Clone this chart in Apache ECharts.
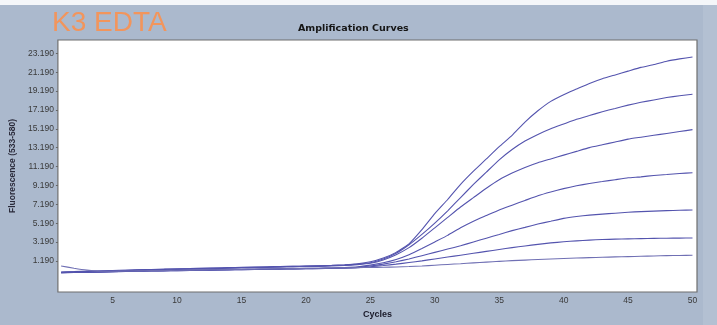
<!DOCTYPE html>
<html>
<head>
<meta charset="utf-8">
<script src="https://cdn.jsdelivr.net/npm/echarts@6/dist/echarts.min.js"></script>
<style>html,body{margin:0;padding:0;background:#abb9cd;}#c{width:717px;height:325px;}</style>
</head>
<body>
<div id="c"></div>
<script>
var cycles = [1,2,3,4,5,6,7,8,9,10,11,12,13,14,15,16,17,18,19,20,21,22,23,24,25,26,27,28,29,30,31,32,33,34,35,36,37,38,39,40,41,42,43,44,45,46,47,48,49,50];
var xTicks = [5,10,15,20,25,30,35,40,45,50];
var yTicks = [1.19,3.19,5.19,7.19,9.19,11.19,13.19,15.19,17.19,19.19,21.19,23.19];

var curve1 = [0.02,0.06,0.1,0.13,0.17,0.21,0.25,0.29,0.32,0.35,0.38,0.42,0.45,0.48,0.51,0.54,0.57,0.6,0.62,0.65,0.68,0.72,0.78,0.88,
  1.1,1.5,2.1,3.0,4.5,6.2,7.7,9.3,10.7,12.0,13.3,14.5,15.9,17.1,18.1,18.8,19.4,20.0,20.5,20.9,21.3,21.7,22.0,22.35,22.6,22.8];
var curve2 = [0.0,0.04,0.08,0.12,0.16,0.2,0.24,0.27,0.3,0.34,0.37,0.4,0.43,0.46,0.49,0.52,0.55,0.58,0.61,0.64,0.67,0.7,0.75,0.85,
  1.0,1.4,2.0,2.9,4.0,5.2,6.5,7.9,9.3,10.6,11.9,13.0,13.9,14.6,15.2,15.7,16.2,16.6,17.0,17.35,17.7,18.0,18.25,18.5,18.7,18.86];
var curve3 = [-0.03,0.0,0.04,0.08,0.12,0.16,0.2,0.23,0.26,0.29,0.32,0.35,0.38,0.41,0.44,0.47,0.5,0.53,0.56,0.59,0.62,0.65,0.7,0.8,
  0.95,1.3,1.85,2.6,3.6,4.7,5.8,6.9,7.9,8.9,9.8,10.5,11.1,11.6,12.0,12.4,12.8,13.2,13.5,13.8,14.1,14.3,14.5,14.7,14.9,15.1];
var curve4 = [-0.05,-0.03,0.0,0.03,0.06,0.09,0.12,0.15,0.17,0.19,0.21,0.23,0.25,0.27,0.29,0.31,0.33,0.35,0.37,0.39,0.41,0.44,0.48,0.56,
  0.75,1.0,1.35,1.85,2.5,3.2,3.9,4.7,5.4,6.0,6.6,7.1,7.6,8.1,8.5,8.85,9.15,9.4,9.6,9.8,10.0,10.1,10.25,10.35,10.45,10.53];
var curve5 = [-0.06,-0.04,-0.02,0.01,0.04,0.07,0.1,0.12,0.14,0.16,0.18,0.2,0.22,0.24,0.26,0.28,0.3,0.32,0.34,0.36,0.38,0.4,0.43,0.5,
  0.65,0.85,1.1,1.4,1.75,2.1,2.45,2.8,3.2,3.6,4.0,4.4,4.75,5.1,5.4,5.7,5.9,6.05,6.15,6.25,6.35,6.42,6.47,6.52,6.56,6.59];
var curve6 = [-0.05,-0.02,0.0,0.02,0.05,0.08,0.11,0.13,0.15,0.17,0.19,0.21,0.23,0.25,0.27,0.29,0.31,0.33,0.35,0.37,0.39,0.41,0.44,0.48,
  0.58,0.7,0.85,1.02,1.2,1.4,1.6,1.8,2.0,2.2,2.4,2.6,2.78,2.95,3.1,3.22,3.32,3.4,3.46,3.5,3.53,3.56,3.58,3.6,3.61,3.62];
var curve7 = [0.66,0.42,0.22,0.1,0.1,0.12,0.14,0.16,0.18,0.2,0.22,0.24,0.26,0.28,0.3,0.32,0.34,0.36,0.38,0.4,0.42,0.44,0.46,0.48,
  0.5,0.52,0.55,0.6,0.66,0.74,0.82,0.9,0.99,1.07,1.15,1.22,1.28,1.34,1.4,1.45,1.5,1.54,1.58,1.62,1.65,1.68,1.72,1.75,1.77,1.79];

var curves = [curve1, curve2, curve3, curve4, curve5, curve6, curve7];

var chart = echarts.init(document.getElementById('c'), null, {renderer: 'canvas'});
var series = curves.map(function (vals, i) {
  return {
    type: 'line',
    name: 'curve' + (i + 1),
    data: cycles.map(function (c, j) { return [c, vals[j]]; }),
    showSymbol: false,
    symbol: 'none',
    smooth: 0.12,
    lineStyle: { color: i === 6 ? '#7070b4' : '#5454ae', width: 1.1 },
    animation: false
  };
});

chart.setOption({
  backgroundColor: '#abb9cd',
  animation: false,
  graphic: [
    { type: 'rect', left: 0, top: 0, shape: { width: 717, height: 5 }, style: { fill: '#f4f6f9' }, z: -1 },
    { type: 'rect', left: 703, top: 5, shape: { width: 14, height: 320 }, style: { fill: '#b3c0d2' }, z: -1 },
    { type: 'text', left: 52, top: 9, style: { text: 'K3 EDTA', fill: '#f2955c', font: '28px "Liberation Sans", Arial, sans-serif' } }
  ],
  title: {
    text: 'Amplification Curves',
    left: 293,
    top: 19,
    textStyle: { fontSize: 9.5, fontWeight: 'bold', fontFamily: 'DejaVu Sans', color: '#151515' }
  },
  grid: {
    left: 53, right: 20, top: 40, bottom: 33,
    show: true, backgroundColor: '#ffffff', borderColor: '#6f6f6f', borderWidth: 1.2,
    containLabel: false
  },
  xAxis: {
    type: 'value',
    min: 0.75, max: 50.35,
    name: 'Cycles',
    nameLocation: 'middle',
    nameGap: 14,
    nameTextStyle: { fontSize: 9, fontWeight: 'bold', fontFamily: 'Liberation Sans', color: '#1a1a2a' },
    axisLine: { show: false },
    axisTick: { show: false },
    splitLine: { show: false },
    axisLabel: {
      customValues: xTicks,
      fontSize: 8.5, fontFamily: 'Liberation Sans', color: '#3a3a3a', margin: 4,
      formatter: function (v) { return String(Math.round(v)); }
    }
  },
  yAxis: {
    type: 'value',
    min: -2.1, max: 24.6,
    name: 'Fluorescence (533-580)',
    nameLocation: 'middle',
    nameGap: 36,
    nameTextStyle: { fontSize: 8.5, fontWeight: 'bold', fontFamily: 'Liberation Sans', color: '#2a2a3a' },
    axisLine: { show: false },
    axisTick: { show: true, customValues: yTicks, length: 2, lineStyle: { color: '#666' } },
    splitLine: { show: false },
    axisLabel: {
      customValues: yTicks,
      fontSize: 8.5, fontFamily: 'Liberation Sans', color: '#3a3a3a', margin: 4,
      formatter: function (v) { return v.toFixed(3); }
    }
  },
  series: series
});
</script>
</body>
</html>
